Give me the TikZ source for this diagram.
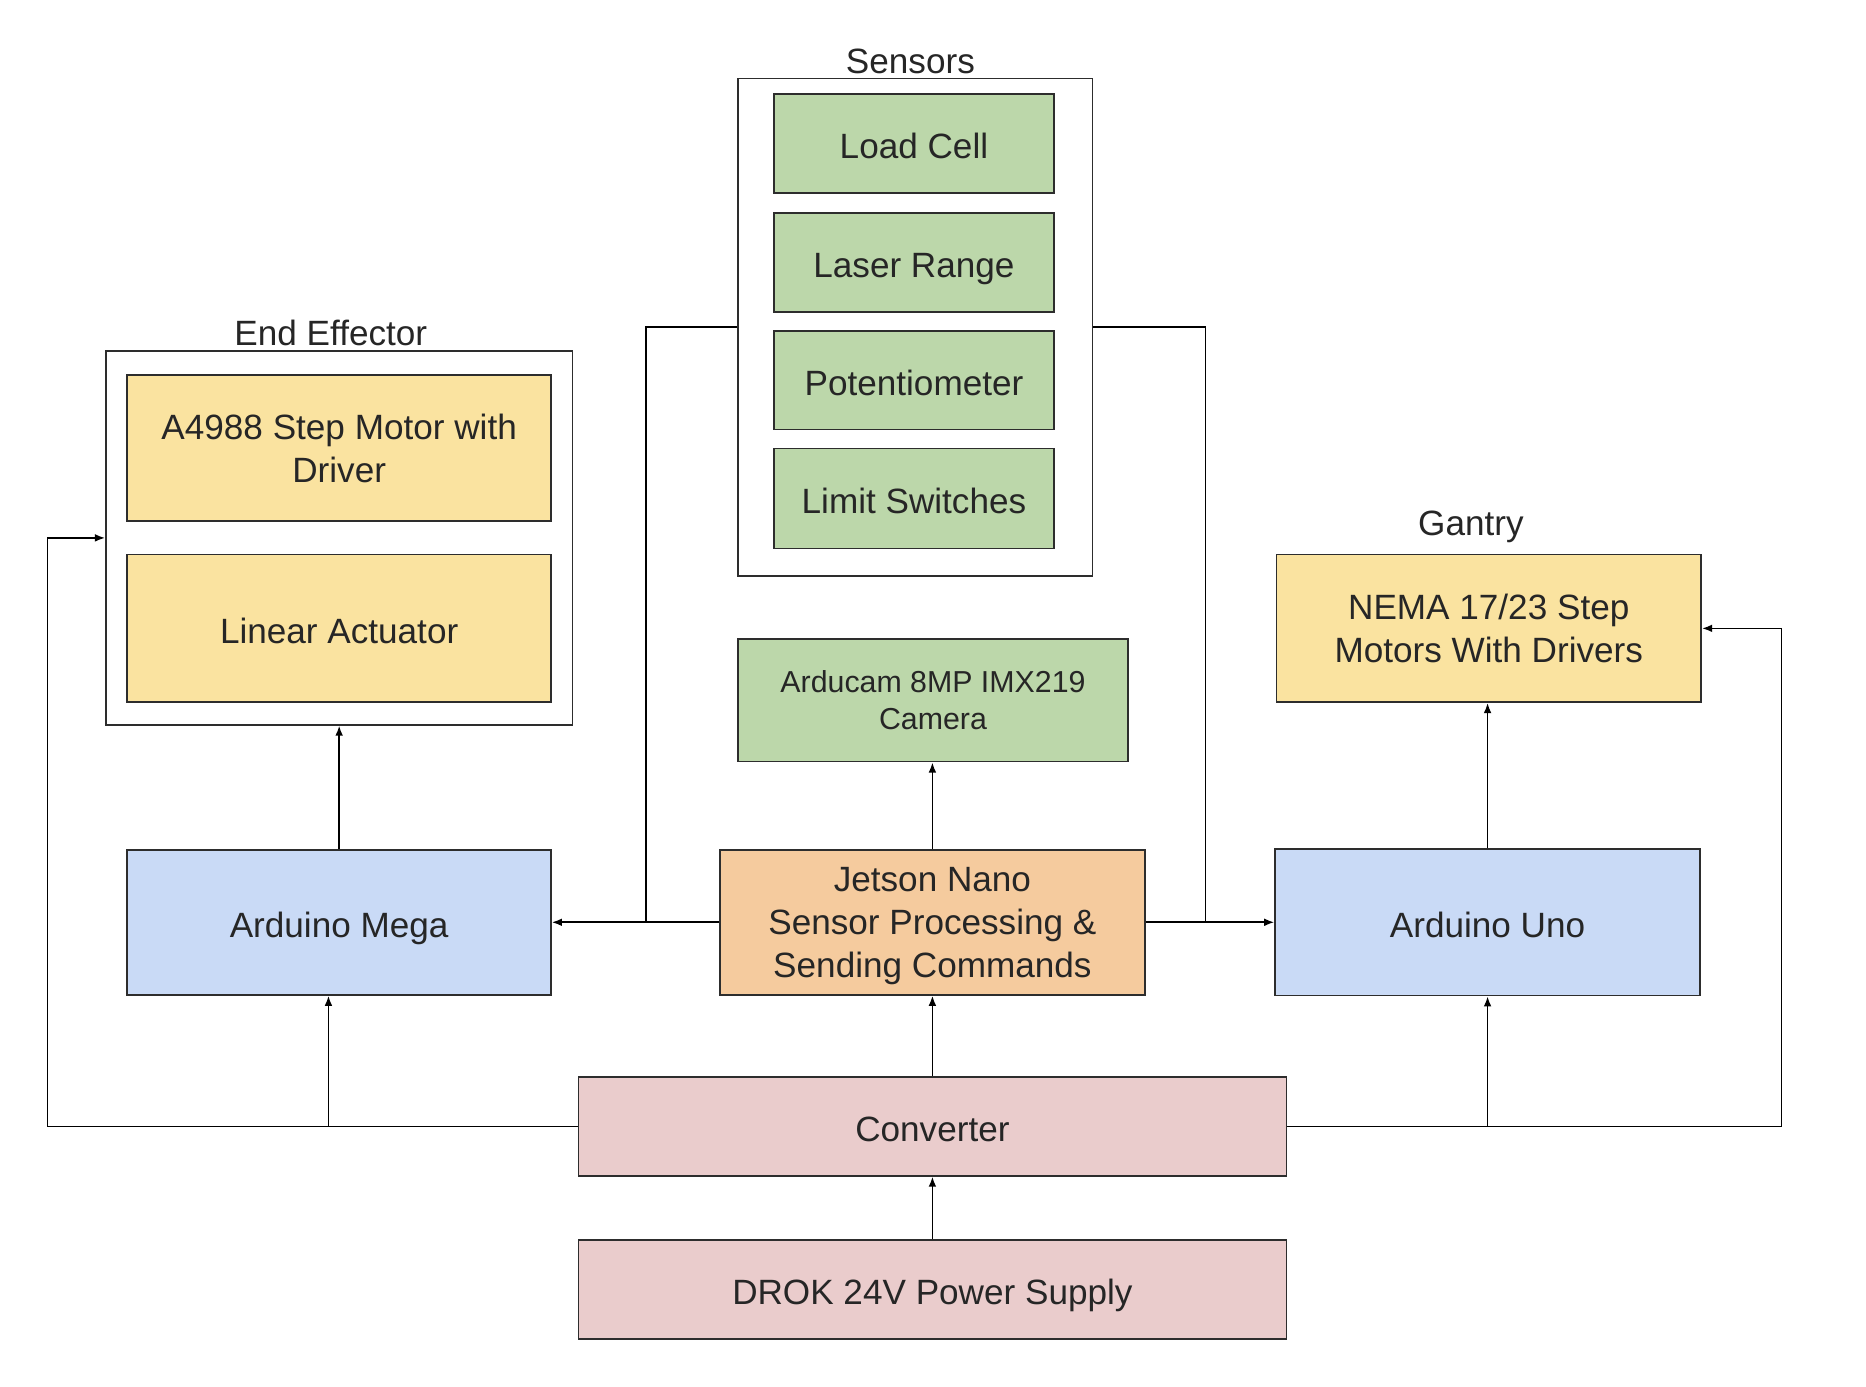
\documentclass[tikz,border=0pt]{standalone}
\usepackage{fontspec}
\setmainfont{Liberation Sans}
\usetikzlibrary{positioning,arrows.meta}
\definecolor{effYellow}{RGB}{250,227,160}
\definecolor{sensGreen}{RGB}{188,215,170}
\definecolor{ctrlBlue}{RGB}{201,218,246}
\definecolor{jetOrange}{RGB}{245,203,158}
\definecolor{pwrPink}{RGB}{234,204,204}
\definecolor{edgeGray}{RGB}{45,45,45}
\newcommand{\bigtext}{\fontsize{16.8}{20.4}\selectfont}
\newcommand{\smalltext}{\fontsize{14.5}{17.6}\selectfont}
\tikzset{
  block/.style={draw=edgeGray, line width=0.8pt, align=center, text=black!85, font=\bigtext, inner sep=0pt,
    execute at begin node={\rule{0pt}{18.4pt}}, execute at end node={\rule[-4pt]{0pt}{0pt}}},
  multiline/.style={text depth=-1.6pt},
  group/.style={draw=edgeGray, line width=0.8pt, fill=white, inner sep=0pt},
  title/.style={text=black!85, font=\bigtext, inner sep=0pt},
}

\begin{document}
\begin{tikzpicture}[x=0.2mm, y=-0.2mm, >={Latex[length=1.7mm,width=1.3mm]}, line width=0.8pt]
    \def\colLeft{285}
    \def\colMid{783.5}
    \def\colRight{1251}
    \def\levelCtrl{775}
    \def\levelPower{946.5}
    \useasboundingbox[fill=white] (0,0) rectangle (1568,1165);

    % end effector group
    \node[group, minimum width=78.4mm, minimum height=62.8mm] (effector) at (\colLeft,452) {};
    \node[title] (effectorTitle) at (278,280) {End Effector};
    \node[block, multiline, fill=effYellow, minimum width=71.2mm, minimum height=24.6mm] (stepDriver) at (\colLeft,376.5) {A4988 Step Motor with\\Driver};
    \node[block, fill=effYellow, minimum width=71.2mm, minimum height=24.8mm] (linActuator) at (\colLeft,528) {Linear Actuator};

    % sensor group
    \node[group, minimum width=59.6mm, minimum height=83.6mm] (sensors) at (769,275) {};
    \node[title] (sensorsTitle) at (765,52) {Sensors};
    \node[block, fill=sensGreen, minimum width=47mm, minimum height=16.6mm] (loadCell) at (768,120.5) {Load Cell};
    \node[block, fill=sensGreen, minimum width=47mm, minimum height=16.6mm] (laserRange) at (768,220.5) {Laser Range};
    \node[block, fill=sensGreen, minimum width=47mm, minimum height=16.6mm] (potentiometer) at (768,319.5) {Potentiometer};
    \node[block, fill=sensGreen, minimum width=47mm, minimum height=16.8mm] (limitSwitches) at (768,419) {Limit Switches};

    \node[block, multiline, fill=sensGreen, font=\smalltext, minimum width=65.6mm, minimum height=20.6mm] (camera) at (784,588.5) {Arducam 8MP IMX219\\Camera};

    % gantry
    \node[title] (gantryTitle) at (1236,443) {Gantry};
    \node[block, multiline, fill=effYellow, minimum width=71.4mm, minimum height=24.8mm] (nema) at (\colRight,528) {NEMA 17/23 Step\\Motors With Drivers};

    % controllers
    \node[block, fill=ctrlBlue, minimum width=71.2mm, minimum height=24.4mm] (mega) at (\colLeft,\levelCtrl) {Arduino Mega};
    \node[block, multiline, fill=jetOrange, minimum width=71.4mm, minimum height=24.4mm] (jetson) at (\colMid,\levelCtrl) {Jetson Nano\\Sensor Processing \&\\Sending Commands};
    \node[block, fill=ctrlBlue, minimum width=71.4mm, minimum height=24.6mm] (uno) at (1250,\levelCtrl) {Arduino Uno};

    % power
    \node[block, fill=pwrPink, minimum width=119mm, minimum height=16.6mm] (converter) at (\colMid,\levelPower) {Converter};
    \node[block, fill=pwrPink, minimum width=119mm, minimum height=16.6mm] (drok) at (\colMid,1083.5) {DROK 24V Power Supply};

    \coordinate (sensJoinL) at (543,\levelCtrl);
    \coordinate (sensJoinR) at (1013,\levelCtrl);
    \coordinate (pwrLeft) at (40,\levelPower);
    \coordinate (pwrRight) at (1497,\levelPower);
    \coordinate (tapMega) at (276,\levelPower);
    \coordinate (tapUno) at (1250,\levelPower);

    \draw (sensors.west) -| (sensJoinL);
    \draw (sensors.east) -| (sensJoinR);
    \draw[->] (jetson.west) -- (mega.east);
    \draw[->] (jetson.east) -- (uno.west);
    \draw[->] (jetson.north) -- (jetson.north |- camera.south);
    \draw[->] (mega.north) -- (effector.south);
    \draw[->] (uno.north) -- (uno.north |- nema.south);
    \draw[->] (converter.north) -- (jetson.south);
    \draw[->] (drok.north) -- (converter.south);
    \draw[->] (converter.west) -- (pwrLeft) |- (effector.west);
    \draw[->] (tapMega) -- (tapMega |- mega.south);
    \draw[->] (converter.east) -- (pwrRight) |- (nema.east);
    \draw[->] (tapUno) -- (tapUno |- uno.south);
\end{tikzpicture}
\end{document}
